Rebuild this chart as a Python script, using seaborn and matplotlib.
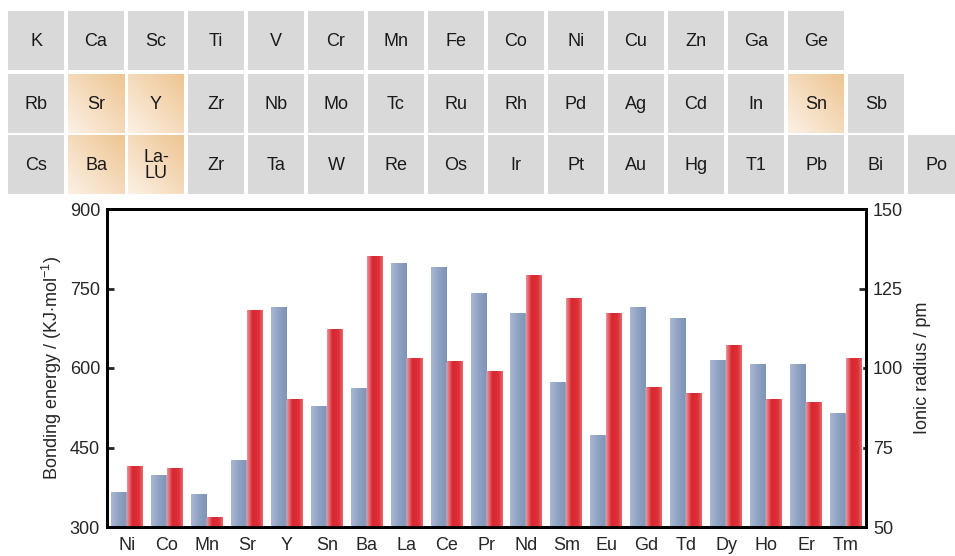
import numpy as np
import pandas as pd
import matplotlib
matplotlib.use("Agg")
import matplotlib.pyplot as plt
from matplotlib.patches import Rectangle
import seaborn as sns

# element rows of the small periodic table on top
row1 = ["K", "Ca", "Sc", "Ti", "V", "Cr", "Mn", "Fe", "Co", "Ni", "Cu", "Zn", "Ga", "Ge"]
row2 = ["Rb", "Sr", "Y", "Zr", "Nb", "Mo", "Tc", "Ru", "Rh", "Pd", "Ag", "Cd", "In", "Sn", "Sb"]
row3 = ["Cs", "Ba", "La-\nLU", "Zr", "Ta", "W", "Re", "Os", "Ir", "Pt", "Au", "Hg", "T1", "Pb", "Bi", "Po"]
highlighted = ["Sr", "Y", "Ba", "La-\nLU", "Sn"]

# bar chart data
elements = ["Ni", "Co", "Mn", "Sr", "Y", "Sn", "Ba", "La", "Ce", "Pr",
            "Nd", "Sm", "Eu", "Gd", "Td", "Dy", "Ho", "Er", "Tm"]
bond_energy = [365, 397, 362, 426, 714, 528, 562, 798, 790, 740,
               703, 573, 473, 715, 694, 615, 606, 606, 514]
ionic_radius = [69, 68.5, 53, 118, 90, 112, 135, 103, 102, 99,
                129, 122, 117, 94, 92, 107, 90, 89, 103]

# shaded background bands (x start, x end, colour)
bands = [(-0.5, 4.6, "#fcf7fc"), (4.6, 9.05, "#f5f6fb"), (9.05, 14.1, "#f8fdf6")]

sns.set_style("ticks")
plt.rcParams["font.family"] = ["Liberation Sans", "DejaVu Sans"]
plt.rcParams["mathtext.fontset"] = "custom"
plt.rcParams["mathtext.rm"] = "Liberation Sans"
plt.rcParams["mathtext.it"] = "Liberation Sans:italic"

W, H = 955, 556
fig = plt.figure(figsize=(W / 100, H / 100), dpi=100)

# ---- periodic table strip ----
tab = fig.add_axes([0, 0, 1, 1])
tab.set_axis_off()
row_tops = [11, 74, 135]
box_w, box_h = 56, 59
light = np.array(matplotlib.colors.to_rgb("#fcf1e5"))
dark = np.array(matplotlib.colors.to_rgb("#eec592"))
u = np.linspace(0, 1, 40)[None, :]
v = np.linspace(0, 1, 40)[:, None]
t = ((u + (1 - v)) / 2)[..., None]
orange_grad = light * (1 - t) + dark * t

for r, row in enumerate([row1, row2, row3]):
    y0 = row_tops[r]
    for i, name in enumerate(row):
        x0 = 8 + 60 * i
        if name in highlighted:
            tab.imshow(orange_grad, extent=[x0, x0 + box_w, y0 + box_h, y0],
                       aspect="auto", interpolation="bilinear", zorder=1)
        else:
            tab.add_patch(Rectangle((x0, y0), box_w, box_h, facecolor="#d9d9d9",
                                    edgecolor="none", zorder=1))
        tab.text(x0 + box_w / 2, y0 + box_h / 2 + 1, name, ha="center", va="center",
                 fontsize=13, color="#1a1a1a", linespacing=1.0, zorder=2)
tab.set_xlim(0, W)
tab.set_ylim(H, 0)

# ---- bar chart ----
ax = fig.add_axes([107 / W, (H - 527) / H, 759 / W, 318 / H])
ax.patch.set_alpha(0)

df = pd.DataFrame({
    "element": elements * 2,
    "series": ["energy"] * len(elements) + ["radius"] * len(elements),
    "value": bond_energy + ionic_radius,
})
df_left = df.assign(value=df["value"].where(df["series"] == "energy"))
df_right = df.assign(value=df["value"].where(df["series"] == "radius"))
pal = {"energy": "#8fa2c3", "radius": "#dc3139"}

for x0, x1, c in bands:
    ax.axvspan(x0, x1, ymin=0, ymax=(877 - 300) / 600, color=c, lw=0, zorder=0)

sns.barplot(data=df_left, x="element", y="value", hue="series", order=elements,
            hue_order=["energy", "radius"], palette=pal, width=0.8, gap=0,
            errorbar=None, legend=False, ax=ax)
ax2 = ax.twinx()
sns.barplot(data=df_right, x="element", y="value", hue="series", order=elements,
            hue_order=["energy", "radius"], palette=pal, width=0.8, gap=0,
            errorbar=None, legend=False, ax=ax2)

ax.set_ylim(300, 900)
ax2.set_ylim(50, 150)
ax.set_xlim(-0.5, 18.5)
ax.set_yticks([300, 450, 600, 750, 900])
ax2.set_yticks([50, 75, 100, 125, 150])


def shade_bars(axis, stops, bottom):
    # replace flat faces with a horizontal gradient
    pos = np.linspace(0, 1, 30)
    cols = np.array([matplotlib.colors.to_rgb(c) for _, c in stops])
    xs = [p for p, _ in stops]
    grad = np.stack([np.interp(pos, xs, cols[:, k]) for k in range(3)], axis=-1)[None]
    for p in list(axis.patches):
        h = p.get_height()
        if not np.isfinite(h) or h == 0:
            continue
        x0 = p.get_x()
        axis.imshow(grad, extent=[x0, x0 + p.get_width(), bottom, h],
                    aspect="auto", interpolation="bilinear", zorder=2)
        p.set_facecolor("none")


blue_stops = [(0, "#a9b8d2"), (0.5, "#8fa2c3"), (1, "#7f93b7")]
red_stops = [(0, "#ee8e94"), (0.35, "#d8262f"), (0.75, "#dc3139"), (1, "#e8666d")]
shade_bars(ax, blue_stops, 300)
shade_bars(ax2, red_stops, 50)
ax.set_xlim(-0.5, 18.5)
ax.set_ylim(300, 900)
ax2.set_ylim(50, 150)

ax.set_xlabel("")
ax.set_ylabel(r"Bonding energy / (KJ$\cdot$mol$^{-1}$)", fontsize=13, labelpad=4)
ax2.set_ylabel("Ionic radius / pm", fontsize=13, labelpad=8)

for a in (ax, ax2):
    for s in a.spines.values():
        s.set_linewidth(2)
        s.set_color("black")
ax.tick_params(axis="x", direction="in", length=6, width=2, labelsize=13, pad=7)
ax.tick_params(axis="y", direction="in", length=5, width=2, labelsize=13, pad=5)
ax2.tick_params(axis="y", direction="in", length=5, width=2, labelsize=13, pad=5)

fig.savefig("out.png", dpi=100)
